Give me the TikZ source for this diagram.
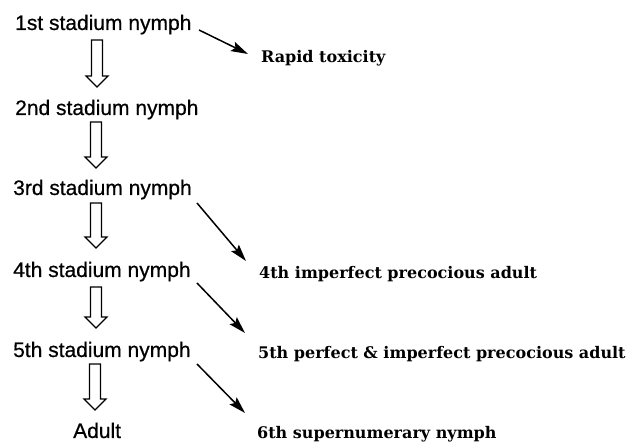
\documentclass[tikz,border=0pt]{standalone}
\usepackage{fontspec}
\setmainfont{Liberation Sans}
\newfontfamily\stagefont{Liberation Sans}[FakeBold=0.6]
\newfontfamily\lblfont{DejaVu Serif}
\usetikzlibrary{arrows.meta,calc}
\newcommand\hollowarrow[2]{%
  \draw[hollow] ($(#1)+(-5.5pt,0)$) -- ($(#2)+(-5.5pt,11pt)$) -- ($(#2)+(-11pt,11pt)$) -- (#2)
    -- ($(#2)+(11pt,11pt)$) -- ($(#2)+(5.5pt,11pt)$) -- ($(#1)+(5.5pt,0)$) -- cycle;}
\begin{document}
\begin{tikzpicture}[x=1pt,y=-1pt,
  stage/.style={anchor=base west,inner sep=0pt,font=\stagefont\fontsize{21}{25}\selectfont},
  result/.style={anchor=base west,inner sep=0pt,font=\lblfont\bfseries\fontsize{16}{19}\selectfont},
  diag/.style={line width=1.5pt,-{Stealth[length=17pt,width=10pt,inset=3pt]}},
  hollow/.style={line width=1.2pt,line join=miter}]
\useasboundingbox (0,0) rectangle (630,443);
\node[stage] (n1) at (15,30) {1st stadium nymph};
\node[stage] (n2) at (15,115) {2nd stadium nymph};
\node[stage] (n3) at (13,195) {3rd stadium nymph};
\node[stage] (n4) at (13,277) {4th stadium nymph};
\node[stage] (n5) at (13,357) {5th stadium nymph};
\node[stage] (n6) at (73,438) {Adult};
\node[result] (r1) at (261,63) {Rapid toxicity};
\node[result] (r4) at (259,279) {4th imperfect precocious adult};
\node[result] (r5) at (258,359) {5th perfect \& imperfect precocious adult};
\node[result] (r6) at (257,439) {6th supernumerary nymph};
% hollow arrows
\coordinate (h1s) at (97,40);  \coordinate (h1e) at (97,87);
\coordinate (h2s) at (96,122); \coordinate (h2e) at (96,168);
\coordinate (h3s) at (96,203); \coordinate (h3e) at (96,248);
\coordinate (h4s) at (96,287); \coordinate (h4e) at (96,328);
\coordinate (h5s) at (95,364); \coordinate (h5e) at (95,410);
\hollowarrow{h1s}{h1e}
\hollowarrow{h2s}{h2e}
\hollowarrow{h3s}{h3e}
\hollowarrow{h4s}{h4e}
\hollowarrow{h5s}{h5e}
% diagonal arrows
\coordinate (d1s) at (199,30);  \coordinate (d1e) at (248,54);
\coordinate (d3s) at (197,203); \coordinate (d3e) at (246,261);
\coordinate (d4s) at (197,283); \coordinate (d4e) at (245,333);
\coordinate (d5s) at (197,364); \coordinate (d5e) at (245,413);
\draw[diag] (d1s) -- (d1e);
\draw[diag] (d3s) -- (d3e);
\draw[diag] (d4s) -- (d4e);
\draw[diag] (d5s) -- (d5e);
\end{tikzpicture}
\end{document}
